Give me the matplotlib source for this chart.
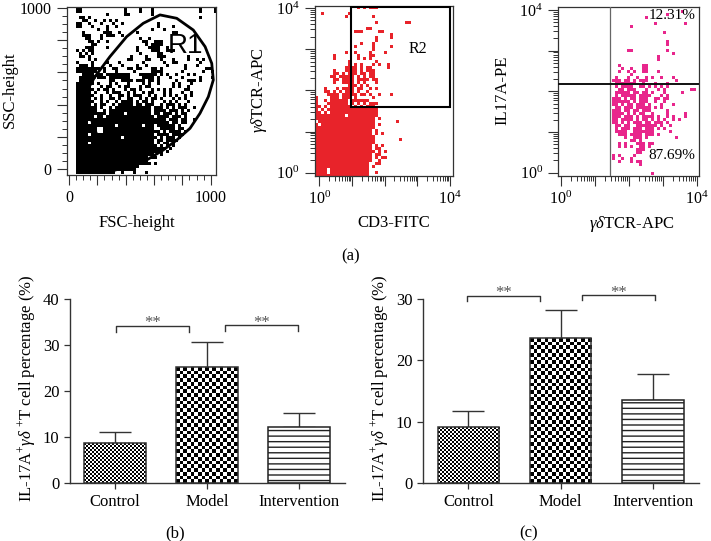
import numpy as np
import matplotlib
matplotlib.use("Agg")
import matplotlib.pyplot as plt
from matplotlib.colors import ListedColormap
from matplotlib.patches import Rectangle
from matplotlib.ticker import FixedLocator, NullFormatter

plt.rcParams['font.family'] = ['Liberation Serif', 'DejaVu Serif']
plt.rcParams['mathtext.fontset'] = 'custom'
plt.rcParams['mathtext.rm'] = 'Liberation Serif'
plt.rcParams['mathtext.it'] = 'Liberation Serif:italic'
plt.rcParams['mathtext.bf'] = 'Liberation Serif:bold'
plt.rcParams['hatch.linewidth'] = 1.0

W, H = 711, 541
DARK = '#333333'

# flow plots, read cell by cell, top row first, '#' = events
fsc_ssc_rows = [
    "...##..............#....#...#...............#....#",
    "...##..............#....#...#...............#....#",
    ".............#.....##.......#",
    "....##.#....................................#",
    ".....##..#..#.#.#",
    "...##..#...#...#..#...........#",
    "...##...#....#..#.............#....#",
    "..........#..#..............#...#",
    ".....#......###..#.....#...........##",
    ".....###...#.###..#",
    "......##...#............#..#",
    ".......##.#..#...........##..###",
    "........##................#.####",
    "......###....#.........#...####..#",
    "...#.#.##..............#....###..###",
    "....#.#.#...............#.....##",
    "....##.#.............#....#...###.......#",
    ".......#.#..........##....##...#...#....#..#.#",
    "...#....#....#...#.......#......#..##.......#",
    "....###.#.....#...#....#..#......#.....#...#",
    "...########.#..##...##.##...##.#.......#......##",
    "...#######..#...#.....#.....####......#......#..#",
    ".....####.##.########...######.#.#..#...#.#",
    "....#####.###.#######....####.#...#...#.....#...#",
    "....#####.....##..####.###.##.#.....#...###.#",
    "...######.#...#.#...#....#.#..#....#.#...#",
    "...#####...#.##..#.##...#.##.......#.#..#",
    "...######.#.##.#...#.##.#...#.#.#.#....##",
    "...#####.#...#.###..#.#..#.##...#.#...#..#",
    "...######..#..#..##.#.###..#.#..#.#.#..#.#",
    "...#####.#.#..##.#..##..#.#.##.#...#.#.#",
    "...######..#.#..#.####.#.##.#...#.#.#...#",
    "...#####.#.##..#.#####.##.###..#.###.#.#",
    "...#######.#..#.############.###.#.#.###..#",
    "...#######..#.##############.####.###.#.#",
    "...##########.#####.########.##.###.#.##",
    "...######.##.################.####.###.#",
    "...##############################.###.##..#",
    "...####.##########################.##.##",
    "...#############.########.###.######.#",
    "...#######..#################..#####.##",
    "...#######..###################.#.####.#",
    "...####.#####################.####.####",
    "...###############.###########.#.###.#",
    "...##########################.##.####",
    "...####.#####################.#.##.#",
    "...###########################.#.#.#",
    "...##############################.#",
    "...#############################.#",
    "...##########################..#",
    "...########################.##",
    "...########################",
    "...#########################.#",
    "...#####################",
    "...####################",
    "...#############..#...#...#",
]
gate_fsc = [183, 289, 407, 524, 642, 760, 877, 960, 1007, 1018, 983, 924, 854, 760, 665, 548, 289, 101, 183]
gate_ssc = [573, 698, 822, 905, 957, 936, 863, 760, 656, 553, 449, 346, 253, 180, 118, 56, -17, 449, 573]

cd3_tcr_rows = [
    "..............#.#.###",
    "",
    "..#........#",
    "..........#........#",
    "",
    "....................#.........##",
    "",
    ".................##",
    ".............###.....##",
    ".........................#",
    "....................#....#",
    "....................#",
    "...............#...#",
    ".............#.....#.....#",
    "...................#",
    "..........#..#....#....#",
    "......#.......#...##",
    "......#.......#.#.#",
    "...........#........#",
    "...........#.#.#...#.#..#",
    "..........####.#.##.....#",
    "......#...####.#.###",
    "......##.#.###.##.##",
    ".....##.#####.#.#.##",
    "......##.####.####.##",
    "......#..####.#.#...#",
    "...........###.#.#",
    "...#...#.####.##..#.#",
    "...##.#.#.###.#..#",
    "....####.#####.##.#..#...#",
    "#....###.###.#.....#",
    "#..#.######.######",
    "#...#######.#.#.#.###",
    "##.#.#######.#.#.###",
    "#.#.#################",
    "##.#.################",
    "##########.##########",
    "####################.#",
    ".###################.......#",
    "#.##################.#",
    "####################",
    "###################.#",
    "###################.#.#",
    "####################",
    "####################........#",
    "####################",
    "###################.#.#",
    "###################.##",
    "####################.#.#",
    "###################.##",
    "###################.#.##",
    "###################..#",
    "##################..##",
    "##################.#",
    "####.#############",
    "####.#############..#",
    "##################",
]
gate_r2_x = [9.2, 10000]
gate_r2_y = [40, 10500]

tcr_il17_rows = [
    "",
    ".........................................#",
    "....................................#",
    ".............................#",
    "",
    "................................#.........#",
    "........................#",
    "",
    "...................................#",
    "",
    "",
    "....................................#",
    "....................................#",
    "",
    ".......................##...........#",
    "......................................#",
    ".................................#",
    ".................................#",
    "",
    "....................#.......##",
    ".....................#..#...##",
    "....................#..#.#..##...#",
    "........................#",
    "...................#...#..#..#.#..#...#",
    "..................###.##.#.###.........#",
    "...................#######..#...#...#",
    "...................#.####..##.#.#.#.#",
    "....................##.###...#...#.#........##",
    "...................#####.##.##.#...#.....#",
    "...................#.#####.####...#.#",
    "..................###.#.##.###..##.##",
    "..................######.#.###..#..#",
    "..................##.#.##.###.#...#...#",
    "...................##.###.#####.#.#",
    "..................###.##.##.###.....#",
    "..................####.#.#.##..#....#.....#",
    "..................###.###.#.####.#..#.#...#",
    "..................##.####.#.##.#.#.#..#.#",
    "..................##.#.#.###.##.###.#",
    "...................##.##..#######.#..#",
    "...................#.###.###.###.#.#",
    "...................####..#######.....#",
    "....................###.####.###.#",
    "......................#..###.#.........#",
    "........................##.#",
    "....................#.#...###.##",
    "....................#.#.#..##.#",
    "..........................###",
    "..........................##",
    "..................#.#....#",
    "..................#..#..#",
    "....................#...#.##",
    "...........................#",
    "",
    "",
    "...............................#",
]
tcr_gate_x = 28
il17_gate_y = 154

# bar panels
groups = ['Control', 'Model', 'Intervention']
b_means = [8.7, 25.2, 12.1]
b_tops = [11.1, 30.7, 15.2]
b_yticks = [0, 10, 20, 30, 40]
c_means = [9.1, 23.6, 13.5]
c_tops = [11.8, 28.2, 17.8]
c_yticks = [0, 10, 20, 30]

b_brackets = [(0.014, 0.804, 34.1, 32.9), (1.19, 1.99, 34.3, 33.1)]
c_brackets = [(-0.01, 0.78, 30.6, 29.65), (1.23, 2.02, 30.77, 29.9)]


def add_axes_px(fig, left, top, right, bottom):
    return fig.add_axes([left / W, 1 - bottom / H, (right - left) / W, (bottom - top) / H])


def rows_to_grid(rows, ncols):
    grid = [[ch == '#' for ch in row.ljust(ncols, '.')[:ncols]] for row in rows]
    return np.array(grid, dtype=float)[::-1]


def draw_cells(ax, xedges, yedges, rows, color):
    grid = rows_to_grid(rows, len(xedges) - 1)
    ax.pcolormesh(xedges, yedges[:grid.shape[0] + 1], grid, vmin=0, vmax=1,
                  cmap=ListedColormap(['white', color]), zorder=1)


def style_box(ax):
    for s in ax.spines.values():
        s.set_color(DARK)
        s.set_linewidth(0.9)
    ax.tick_params(which='major', length=7, width=0.8, color=DARK, labelsize=11.5, pad=4)
    ax.tick_params(which='minor', length=3.6, width=0.7, color=DARK)


def log_ticks(axis):
    axis.set_ticks([1, 10, 100, 1000, 10000], ['$10^{0}$', '', '', '', '$10^{4}$'])
    minors = [s * 10 ** d for d in range(4) for s in range(2, 10)]
    axis.set_minor_locator(FixedLocator(minors))
    axis.set_minor_formatter(NullFormatter())


def fill_checker(ax, bar, cell_px):
    xlim, ylim = ax.get_xlim(), ax.get_ylim()
    box = bar.get_window_extent()
    ny = int(round(box.height / cell_px))
    nx = int(round(box.width / cell_px))
    yy, xx = np.indices((ny, nx))
    x0, y0 = bar.get_x(), bar.get_y()
    ax.imshow((xx + yy) % 2, cmap='gray', aspect='auto', interpolation='nearest',
              extent=[x0, x0 + bar.get_width(), y0, y0 + bar.get_height()], zorder=1.5)
    ax.set_xlim(xlim)
    ax.set_ylim(ylim)


def bar_panel(fig, box, means, tops, yticks, brackets, star_y):
    ax = add_axes_px(fig, *box)
    ax.set_xlim(-0.495, 2.5)
    ax.set_ylim(0, yticks[-1])
    x = np.arange(len(groups))
    bars = ax.bar(x, means, width=0.668, color='white', edgecolor=DARK, linewidth=1.1, zorder=2)
    bars[0].set_facecolor('none')
    bars[1].set_facecolor('none')
    bars[2].set_hatch('---')
    bars[2].set_edgecolor('#222222')
    upper = np.array(tops) - np.array(means)
    ax.errorbar(x, means, yerr=[np.zeros(3), upper], fmt='none', ecolor=DARK,
                elinewidth=1, capsize=11.5, capthick=1, zorder=1)
    fill_checker(ax, bars[0], 2.0)
    fill_checker(ax, bars[1], 3.7)
    for s in ['top', 'right']:
        ax.spines[s].set_visible(False)
    for s in ['left', 'bottom']:
        ax.spines[s].set_color(DARK)
        ax.spines[s].set_linewidth(1)
    ax.set_xticks(x, groups)
    ax.set_yticks(yticks)
    ax.tick_params(length=4.5, width=0.9, color=DARK, labelsize=12, pad=3.5)
    ax.tick_params(axis='y', labelsize=12, pad=3)
    for x0, x1, y_top, y_tip in brackets:
        ax.plot([x0, x0, x1, x1], [y_tip, y_top, y_top, y_tip], color=DARK, lw=1, clip_on=False)
        ax.text((x0 + x1) / 2, star_y, '**', ha='center', va='center', fontsize=12,
                color='#555555', clip_on=False)
    return ax


fig = plt.figure(figsize=(W / 100, H / 100), dpi=100)

# FSC / SSC
ax1 = add_axes_px(fig, 66.7, 6.7, 216, 175)
ax1.set_xlim(-16, 1037)
ax1.set_ylim(-37, 1008)
fsc_edges = -16 + 21.2 * np.arange(51)
ssc_edges = 1008 - 18.6 * np.arange(len(fsc_ssc_rows), -1, -1)
draw_cells(ax1, fsc_edges, ssc_edges, fsc_ssc_rows, 'black')
ax1.plot(gate_fsc, gate_ssc, color='black', lw=2, solid_joinstyle='round', zorder=3)
ax1.text(695, 764, 'R1', fontsize=20, family='Liberation Sans', ha='left', va='center', zorder=4)
style_box(ax1)
ax1.set_xticks([0, 200, 400, 600, 800, 1000], ['0', '', '', '', '', '1000'])
ax1.set_yticks([0, 200, 400, 600, 800, 1000], ['0', '', '', '', '', '1000'])
ax1.set_xticks(np.arange(0, 1001, 50), minor=True)
ax1.set_yticks(np.arange(0, 1001, 50), minor=True)

# CD3 / gamma delta TCR
ax2 = add_axes_px(fig, 314.7, 6, 452.7, 175.7)
ax2.set_xscale('log')
ax2.set_yscale('log')
ax2.set_xlim(10 ** -0.14, 10 ** 4.083)
ax2.set_ylim(10 ** -0.073, 10 ** 4.047)
cd3_edges = 10 ** (-0.14 + 0.0918 * np.arange(47))
tcr_edges = 10 ** (4.047 - 0.0729 * np.arange(len(cd3_tcr_rows), -1, -1))
draw_cells(ax2, cd3_edges, tcr_edges, cd3_tcr_rows, '#e8232a')
ax2.add_patch(Rectangle((gate_r2_x[0], gate_r2_y[0]), gate_r2_x[1] - gate_r2_x[0], gate_r2_y[1] - gate_r2_y[0],
                        fill=False, edgecolor='black', lw=1.5, zorder=3))
ax2.text(1050, 1000, 'R2', fontsize=11.5, ha='center', va='center', zorder=4)
style_box(ax2)
log_ticks(ax2.xaxis)
log_ticks(ax2.yaxis)

# gamma delta TCR / IL17A
ax3 = add_axes_px(fig, 558.3, 6.7, 699, 175.7)
ax3.set_xscale('log')
ax3.set_yscale('log')
ax3.set_xlim(10 ** -0.07, 10 ** 4.068)
ax3.set_ylim(10 ** -0.074, 10 ** 4.08)
tcr3_edges = 10 ** (-0.07 + 0.0882 * np.arange(48))
il17_edges = 10 ** (4.08 - 0.0737 * np.arange(len(tcr_il17_rows), -1, -1))
draw_cells(ax3, tcr3_edges, il17_edges, tcr_il17_rows, '#e8268c')
ax3.axvline(tcr_gate_x, color='#666666', lw=0.9, zorder=3)
ax3.axhline(il17_gate_y, color='#111111', lw=1.4, zorder=3)
ax3.text(0.972, 0.945, '12.31%', transform=ax3.transAxes, fontsize=11, ha='right', va='center', zorder=4)
ax3.text(0.972, 0.117, '87.69%', transform=ax3.transAxes, fontsize=11, ha='right', va='center', zorder=4)
style_box(ax3)
log_ticks(ax3.xaxis)
log_ticks(ax3.yaxis)

# bars
ylab = r'IL-17A$^{+}\gamma\delta$ $^{+}$T cell percentage (%)'
bar_panel(fig, (69.7, 299, 345, 482.7), b_means, b_tops, b_yticks, b_brackets, 34.7)
bar_panel(fig, (422.7, 299.3, 699, 482.7), c_means, c_tops, c_yticks, c_brackets, 31.1)

# axis titles and panel letters, at pixel positions
def label(x, y, text, rotation=0, size=12):
    fig.text(x / W, 1 - y / H, text, ha='center', va='center', rotation=rotation, fontsize=size)


label(137, 223, 'FSC-height')
label(10, 90, 'SSC-height', rotation=90)
label(394, 223, 'CD3-FITC')
label(259, 90, r'$\gamma\delta$TCR-APC', rotation=90)
label(632, 224, r'$\gamma\delta$TCR-APC')
label(502, 90, 'IL17A-PE', rotation=90)
label(26.7, 388, ylab, rotation=90)
label(380, 388, ylab, rotation=90)
label(351, 256, '(a)')
label(175, 533, '(b)')
label(529, 533, '(c)')

fig.savefig('out.png', dpi=100)
